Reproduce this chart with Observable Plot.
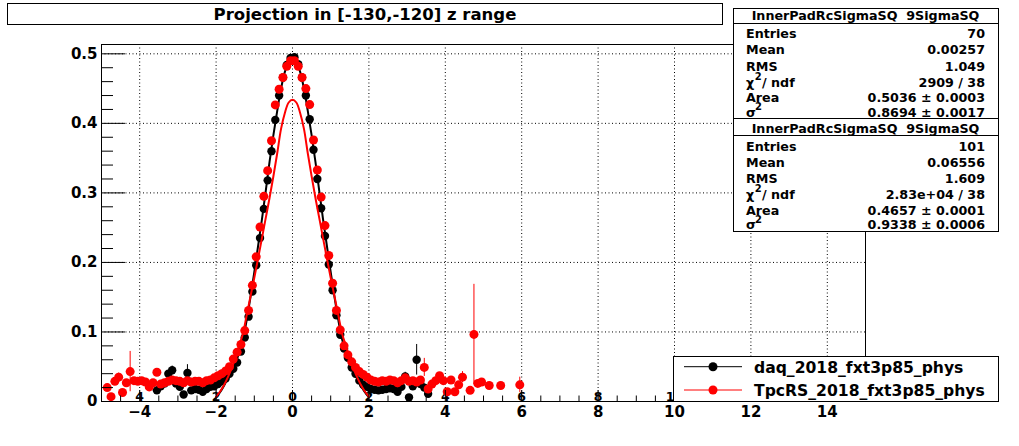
<!DOCTYPE html>
<html><head><meta charset="utf-8">
<script src="https://cdn.jsdelivr.net/npm/d3@7"></script>
<script src="https://cdn.jsdelivr.net/npm/@observablehq/plot@0.6"></script>
<style>
body{margin:0;background:#fff;}
#wrap{position:relative;width:1019px;height:446px;font-family:"DejaVu Sans",sans-serif;}
#wrap > svg{position:absolute;left:0;top:0;}
</style></head><body><div id="wrap"></div>
<script>
// ---------- data ----------
const titleText = "Projection in [-130,-120] z range";
const seriesNames = ["daq_2018_fxt3p85_phys", "TpcRS_2018_fxt3p85_phys"];
const seriesColors = ["#000000", "#ff0000"];

const blackX = [-3.55,-3.45,-3.35,-3.25,-3.15,-3.05,-2.95,-2.85,-2.75,-2.65,-2.55,-2.45,-2.35,-2.25,-2.15,-2.05,-1.95,-1.85,-1.75,-1.65,-1.55,-1.45,-1.35,-1.25,-1.15,-1.05,-0.95,-0.85,-0.75,-0.65,-0.55,-0.45,-0.35,-0.25,-0.15,-0.05,0.05,0.15,0.25,0.35,0.45,0.55,0.65,0.75,0.85,0.95,1.05,1.15,1.25,1.35,1.45,1.55,1.65,1.75,1.85,1.95,2.05,2.15,2.25,2.35,2.45,2.55,2.65,2.75,2.85,2.95,3.05,3.15,3.25,3.35,3.45,3.55];
const blackY = [0.016,0.022,0.026,0.040,0.045,0.026,0.021,0.010,0.041,0.016,0.018,0.017,0.014,0.018,0.021,0.022,0.025,0.029,0.033,0.040,0.047,0.056,0.072,0.092,0.122,0.158,0.196,0.235,0.277,0.318,0.360,0.405,0.440,0.466,0.484,0.494,0.495,0.485,0.466,0.440,0.406,0.362,0.320,0.278,0.238,0.197,0.160,0.124,0.096,0.076,0.063,0.049,0.040,0.030,0.024,0.021,0.018,0.017,0.016,0.017,0.018,0.019,0.018,0.014,0.021,0.036,0.006,0.022,0.060,0.025,0.020,0.011];
const blackErr = [[-3.15,0.006],[-2.75,0.012],[2.95,0.006],[3.25,0.022],[3.55,0.005]];

const redX = [-4.85,-4.75,-4.65,-4.55,-4.45,-4.35,-4.25,-4.15,-4.05,-3.95,-3.85,-3.75,-3.65,-3.55,-3.45,-3.35,-3.25,-3.15,-3.05,-2.95,-2.85,-2.75,-2.65,-2.55,-2.45,-2.35,-2.25,-2.15,-2.05,-1.95,-1.85,-1.75,-1.65,-1.55,-1.45,-1.35,-1.25,-1.15,-1.05,-0.95,-0.85,-0.75,-0.65,-0.55,-0.45,-0.35,-0.25,-0.15,-0.05,0.05,0.15,0.25,0.35,0.45,0.55,0.65,0.75,0.85,0.95,1.05,1.15,1.25,1.35,1.45,1.55,1.65,1.75,1.85,1.95,2.05,2.15,2.25,2.35,2.45,2.55,2.65,2.75,2.85,2.95,3.05,3.15,3.25,3.35,3.45,3.55,3.65,3.75,3.85,3.95,4.05,4.15,4.25,4.35,4.45,4.65,4.75,4.85,4.95,5.15,5.45,5.95];
const redY = [0.020,0.007,0.029,0.035,0.013,0.027,0.043,0.030,0.029,0.030,
0.028,0.021,0.027,0.042,0.025,0.027,0.029,0.031,0.030,0.029,
0.027,0.030,0.028,0.029,0.029,0.027,0.030,0.031,0.034,0.037,
0.040,0.044,0.050,0.061,0.071,0.082,0.102,0.131,0.167,0.208,
0.251,0.295,0.332,0.375,0.4265,0.449,0.466,0.482,0.490,0.490,
0.482,0.466,0.450,0.427,0.376,0.333,0.294,0.253,0.210,0.170,
0.131,0.103,0.080,0.067,0.057,0.049,0.043,0.039,0.035,0.031,
0.029,0.028,0.030,0.029,0.031,0.030,0.027,0.030,0.034,0.029,
0.030,0.028,0.031,0.049,0.018,0.025,0.030,0.037,0.030,0.014,
0.031,0.014,0.024,0.035,
0.016,0.0965,0.026,0.028,0.023,0.023,0.024];
const redErr = [[-4.85,0.005],[-4.55,0.006],[-4.25,0.029],[3.45,0.013],[4.45,0.008],[4.75,0.072],[5.95,0.011]];

const fitX = [-2.0,-1.9,-1.8,-1.7,-1.6,-1.5,-1.4,-1.3,-1.2,-1.1,-1.0,-0.9,-0.8,-0.7,-0.6,-0.5,-0.4,-0.3,-0.2,-0.1,0,0.1,0.2,0.3,0.4,0.5,0.6,0.7,0.8,0.9,1.0,1.1,1.2,1.3,1.4,1.5,1.6,1.7,1.8,1.9,2.0];
const blackFitY = [0.006,0.013,0.022,0.033,0.045,0.055,0.069,0.089,0.117,0.150,0.186,0.224,0.262,0.303,0.345,0.383,0.418,0.450,0.474,0.490,0.496,0.490,0.474,0.450,0.418,0.383,0.345,0.303,0.262,0.224,0.186,0.150,0.117,0.089,0.069,0.055,0.045,0.033,0.022,0.013,0.006];
const redFitY = [0.007,0.014,0.023,0.034,0.047,0.062,0.080,0.097,0.124,0.151,0.178,0.206,0.235,0.264,0.293,0.324,0.357,0.392,0.415,0.430,0.434,0.430,0.415,0.392,0.357,0.324,0.293,0.264,0.235,0.206,0.178,0.151,0.124,0.097,0.080,0.062,0.047,0.034,0.023,0.014,0.007];

const xTicks = [-4,-2,0,2,4,6,8,10,12,14];
const xTickLabels = ["\u22124","\u22122","0","2","4","6","8","10","12","14"];
// second (partly hidden) set of labels that ROOT draws on the axis line; 12 and 14 sit under the legend
const xSmallTicks = [-4,-2,0,2,4,6,8,10];
const xSmallLabels = ["4","2","0","2","4","6","8","10"];
const yTicks = [0,0.1,0.2,0.3,0.4,0.5];
const yTickLabels = ["0","0.1","0.2","0.3","0.4","0.5"];

const statsHeader = "InnerPadRcSigmaSQ  9SigmaSQ";
const statsLabels = ["Entries","Mean","RMS","chi2","Area","sigma2"];
const stats1Values = ["70","0.00257","1.049","2909 / 38","0.5036 \u00b1 0.0003","0.8694 \u00b1 0.0017"];
const stats2Values = ["101","0.06556","1.609","2.83e+04 / 38","0.4657 \u00b1 0.0001","0.9338 \u00b1 0.0006"];

// ---------- layout ----------
const W = 1019, H = 446;
const mL = 101, mR = 154, mT = 44, mB = 45;
const xDom = [-5, 15], yDom = [0, 0.5134];
const pxX = (W - mL - mR) / (xDom[1] - xDom[0]);
const pxY = (H - mT - mB) / (yDom[1] - yDom[0]);

const black = blackX.map((x, i) => ({x, y: blackY[i]}));
const red = redX.map((x, i) => ({x, y: redY[i]}));
const bErr = blackErr.map(([x, e]) => ({x, y: blackY[blackX.indexOf(x)], e}));
const rErr = redErr.map(([x, e]) => ({x, y: redY[redX.indexOf(x)], e}));
const bFit = fitX.map((x, i) => ({x, y: blackFitY[i]}));
const rFit = fitX.map((x, i) => ({x, y: redFitY[i]}));

const yMinor = d3.range(0, 51, 2).map(v => v / 100).filter(v => Math.round(v * 100) % 10 !== 0);
const xMinor = d3.range(-10, 31).map(v => v / 2).filter(v => v % 2 !== 0);
const yGrid = yTicks.filter(v => v > 0);

const dash = "1,2.5";
const plot = Plot.plot({
  width: W, height: H,
  marginLeft: mL, marginRight: mR, marginTop: mT, marginBottom: mB,
  x: {domain: xDom, axis: null},
  y: {domain: yDom, axis: null},
  style: {fontFamily: "DejaVu Sans", background: "white", overflow: "visible"},
  marks: [
    Plot.ruleX(xTicks, {x: d => d, stroke: "black", strokeDasharray: dash, strokeWidth: 1}),
    Plot.ruleY(yGrid, {y: d => d, stroke: "black", strokeDasharray: dash, strokeWidth: 1}),
    Plot.text(xSmallTicks, {x: d => d, y: yDom[0], text: (d, i) => xSmallLabels[i], dy: -4.5, fontSize: 12.5, fontWeight: "bold", fill: "black", clip: true}),
    Plot.ruleX(bErr, {x: "x", y1: d => d.y - d.e, y2: d => d.y + d.e, stroke: seriesColors[0]}),
    Plot.dot(black, {x: "x", y: "y", r: 4.2, fill: seriesColors[0]}),
    Plot.line(bFit, {x: "x", y: "y", stroke: seriesColors[0], strokeWidth: 2, curve: "catmull-rom"}),
    Plot.ruleX(rErr, {x: "x", y1: d => d.y - d.e, y2: d => d.y + d.e, stroke: seriesColors[1]}),
    Plot.dot(red, {x: "x", y: "y", r: 4.5, fill: seriesColors[1]}),
    Plot.line(rFit, {x: "x", y: "y", stroke: seriesColors[1], strokeWidth: 2, curve: "catmull-rom"}),
    Plot.frame({stroke: "black", strokeWidth: 1}),
    // inward ticks
    Plot.ruleY(yTicks, {y: d => d, x1: xDom[0], x2: xDom[0] + 24 / pxX, stroke: "black"}),
    Plot.ruleY(yMinor, {y: d => d, x1: xDom[0], x2: xDom[0] + 12 / pxX, stroke: "black"}),
    Plot.ruleX(xTicks, {x: d => d, y1: yDom[0], y2: yDom[0] + 11 / pxY, stroke: "black"}),
    Plot.ruleX(xMinor, {x: d => d, y1: yDom[0], y2: yDom[0] + 5.5 / pxY, stroke: "black"}),
    // tick labels
    Plot.text(yTicks, {x: xDom[0], y: d => d, text: (d, i) => yTickLabels[i], textAnchor: "end", dx: -4, fontSize: 15, fontWeight: "bold", fill: "black", ariaLabel: "ylabels"}),
    Plot.text(xTicks, {x: d => d, y: yDom[0], text: (d, i) => xTickLabels[i], dy: 11, fontSize: 15, fontWeight: "bold", fill: "black"})
  ]
});
document.getElementById("wrap").appendChild(plot);

// ROOT draws the leading zero of the y labels twice, slightly offset: mimic it inside one text element
d3.select(plot).selectAll('g[aria-label="ylabels"] text').each(function() {
  const t = this.textContent;
  if (t.length > 1) {
    const el = d3.select(this);
    el.text(null);
    el.append("tspan").text("0");
    el.append("tspan").attr("dx", -5).text(t);
  }
});

// ---------- overlay: title, stats, legend ----------
function esc(s){return s.replace(/&/g,"&amp;").replace(/</g,"&lt;");}
function statsBox(top, bottom, sep, headBase, bases, values) {
  let s = `<rect x="733.5" y="${top}" width="265" height="${bottom - top}" fill="white" stroke="black"/>`;
  s += `<line x1="733.5" x2="998.5" y1="${sep}" y2="${sep}" stroke="black"/>`;
  s += `<text x="865.5" y="${headBase}" text-anchor="middle" font-weight="bold" font-size="12.7" xml:space="preserve">${esc(statsHeader)}</text>`;
  bases.forEach((b, i) => {
    const lab = statsLabels[i];
    if (lab === "chi2") {
      s += `<text x="746" y="${b}" font-weight="bold" font-size="12.7">\u03c7<tspan dx="0.5" dy="-6.5" font-size="10">2</tspan><tspan x="762" dy="6.5">/ ndf</tspan></text>`;
    } else if (lab === "sigma2") {
      s += `<text x="746" y="${b}" font-weight="bold" font-size="12.7">\u03c3<tspan dx="-1" dy="-6.5" font-size="10">2</tspan></text>`;
    } else {
      s += `<text x="746" y="${b}" font-weight="bold" font-size="12.7">${lab}</text>`;
    }
    s += `<text x="985" y="${b}" text-anchor="end" font-weight="bold" font-size="12.7">${esc(values[i])}</text>`;
  });
  return s;
}
let o = `<svg width="${W}" height="${H}" font-family="DejaVu Sans" fill="black">`;
o += `<rect x="7.5" y="3.5" width="715" height="21" fill="white" stroke="black"/>`;
o += `<text x="365" y="20" text-anchor="middle" font-weight="bold" font-size="16.5">${esc(titleText)}</text>`;
o += statsBox(8.5, 118.5, 23.5, 20, [38.3,54.3,70.7,86.7,102.3,116.7], stats1Values);
o += statsBox(118.5, 231.5, 135.5, 132.7, [150.7,166.7,182.7,198.7,215,229.3], stats2Values);
o += `<rect x="673.5" y="356.5" width="325" height="45" fill="white" stroke="black"/>`;
[366.7, 390].forEach((yy, i) => {
  o += `<line x1="684" x2="742" y1="${yy}" y2="${yy}" stroke="${seriesColors[i]}" stroke-width="1"/>`;
  o += `<circle cx="713" cy="${yy}" r="4.5" fill="${seriesColors[i]}"/>`;
  o += `<text x="754" y="${yy + 5.8}" font-weight="bold" font-size="15.6">${esc(seriesNames[i])}</text>`;
});
o += `</svg>`;
document.getElementById("wrap").insertAdjacentHTML("beforeend", o);
</script></body></html>
